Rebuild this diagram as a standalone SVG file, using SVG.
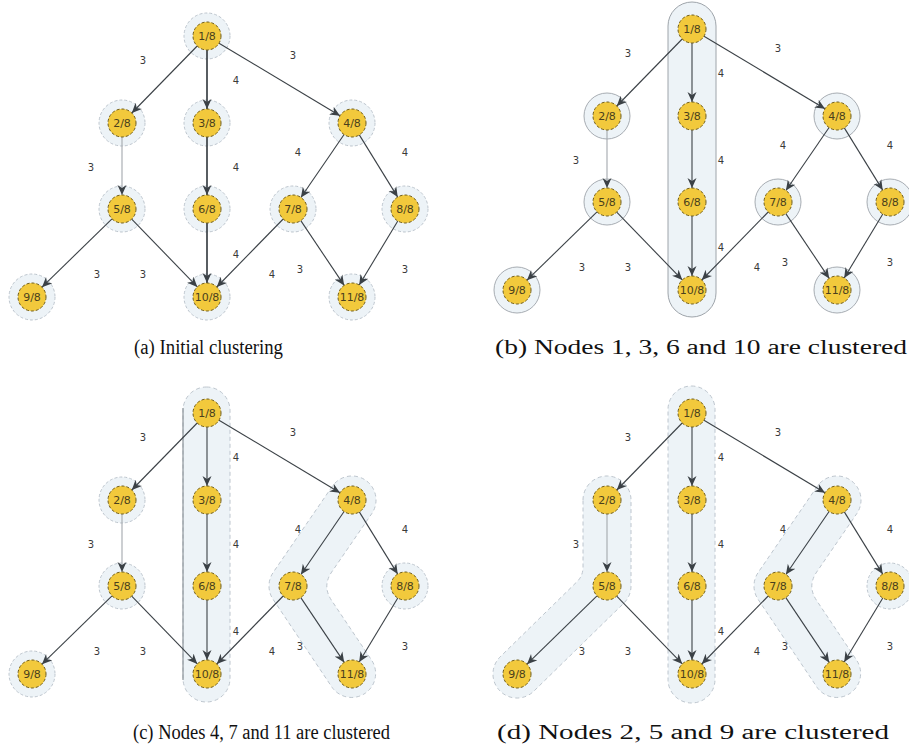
<svg xmlns="http://www.w3.org/2000/svg" width="909" height="744" viewBox="0 0 909 744">
<defs>
<marker id="ah" viewBox="0 0 10 10" refX="10" refY="5" markerWidth="10" markerHeight="10" markerUnits="userSpaceOnUse" orient="auto"><path d="M0,0.5 L10,5 L0,9.5 L3,5 z" fill="#3b4146"/></marker>
<style>
.halo{fill:#edf3f7;stroke:#b7c0c8;stroke-width:0.9;stroke-dasharray:3 2}
.halos{fill:#edf3f7;stroke:#9ea4aa;stroke-width:0.9}
.clu{fill:#edf3f7;stroke:#b7c0c8;stroke-width:0.9;stroke-dasharray:4 3}
.clus{fill:#edf3f7;stroke:#9ea4aa;stroke-width:1}
.nd{fill:#f2c93c;stroke:#6e5c1c;stroke-width:1;stroke-dasharray:3 2}
.nt{font-family:"DejaVu Sans",sans-serif;font-size:11px;fill:#4a3f1c;text-anchor:middle}
.e{stroke:#3b4146;stroke-width:1.1;fill:none;marker-end:url(#ah)}
.eb{stroke-width:1.7}
.el{stroke:#a3a8ad}
.lb{font-family:"DejaVu Sans",sans-serif;font-size:10px;fill:#3a3a3a;text-anchor:middle}
.cap{font-family:"Liberation Serif","DejaVu Serif",serif;fill:#111;font-size:20px}
</style>
</defs>
<rect width="909" height="744" fill="#fff"/>

<!-- Panel A -->
<g id="panel-a">
<g id="a-halos">
<circle class="halo" cx="207" cy="36" r="23"/><circle class="halo" cx="122" cy="123" r="23"/><circle class="halo" cx="207" cy="123" r="23"/><circle class="halo" cx="352" cy="123" r="23"/><circle class="halo" cx="122" cy="209" r="23"/><circle class="halo" cx="207" cy="209" r="23"/><circle class="halo" cx="293" cy="209" r="23"/><circle class="halo" cx="405" cy="209" r="23"/><circle class="halo" cx="32" cy="297" r="23"/><circle class="halo" cx="207" cy="297" r="23"/><circle class="halo" cx="352" cy="297" r="23"/>
</g>
<g id="a-connectors">
<line class="e" x1="197.2" y1="46" x2="131.8" y2="113"/>
<line class="e eb" x1="207" y1="50" x2="207" y2="109"/>
<line class="e" x1="219" y1="43.2" x2="340" y2="115.8"/>
<line class="e el" x1="122" y1="137" x2="122" y2="195"/>
<line class="e eb" x1="207" y1="137" x2="207" y2="195"/>
<line class="e" x1="344.1" y1="134.5" x2="300.9" y2="197.5"/>
<line class="e" x1="359.3" y1="134.9" x2="397.7" y2="197.1"/>
<line class="e" x1="112" y1="218.8" x2="42" y2="287.2"/>
<line class="e" x1="131.7" y1="219.1" x2="197.3" y2="286.9"/>
<line class="e eb" x1="207" y1="223" x2="207" y2="283"/>
<line class="e" x1="283.2" y1="219" x2="216.8" y2="287"/>
<line class="e" x1="300.8" y1="220.6" x2="344.2" y2="285.4"/>
<line class="e" x1="397.8" y1="221" x2="359.2" y2="285"/>
<text class="lb" x="143" y="64">3</text><text class="lb" x="293" y="59">3</text><text class="lb" x="236" y="84">4</text><text class="lb" x="91" y="171">3</text><text class="lb" x="236" y="171">4</text><text class="lb" x="298" y="156">4</text><text class="lb" x="405" y="156">4</text><text class="lb" x="97" y="278">3</text><text class="lb" x="143" y="278">3</text><text class="lb" x="236" y="258">4</text><text class="lb" x="272" y="278">4</text><text class="lb" x="300" y="273">3</text><text class="lb" x="405" y="273">3</text>
</g>
<g id="a-n1"><circle class="nd" cx="207" cy="36" r="14"/><text class="nt" x="207" y="40">1/8</text></g>
<g id="a-n2"><circle class="nd" cx="122" cy="123" r="14"/><text class="nt" x="122" y="127">2/8</text></g>
<g id="a-n3"><circle class="nd" cx="207" cy="123" r="14"/><text class="nt" x="207" y="127">3/8</text></g>
<g id="a-n4"><circle class="nd" cx="352" cy="123" r="14"/><text class="nt" x="352" y="127">4/8</text></g>
<g id="a-n5"><circle class="nd" cx="122" cy="209" r="14"/><text class="nt" x="122" y="213">5/8</text></g>
<g id="a-n6"><circle class="nd" cx="207" cy="209" r="14"/><text class="nt" x="207" y="213">6/8</text></g>
<g id="a-n7"><circle class="nd" cx="293" cy="209" r="14"/><text class="nt" x="293" y="213">7/8</text></g>
<g id="a-n8"><circle class="nd" cx="405" cy="209" r="14"/><text class="nt" x="405" y="213">8/8</text></g>
<g id="a-n9"><circle class="nd" cx="32" cy="297" r="14"/><text class="nt" x="32" y="301">9/8</text></g>
<g id="a-n10"><circle class="nd" cx="207" cy="297" r="14"/><text class="nt" x="207" y="301">10/8</text></g>
<g id="a-n11"><circle class="nd" cx="352" cy="297" r="14"/><text class="nt" x="352" y="301">11/8</text></g>
</g>

<!-- Panel B -->
<g id="panel-b" transform="translate(485,-7)">
<g id="b-clusters">
<rect class="clus" x="183" y="9" width="48" height="315" rx="24"/>
<circle class="halos" cx="122" cy="123" r="23"/><circle class="halos" cx="352" cy="123" r="23"/><circle class="halos" cx="122" cy="209" r="23"/><circle class="halos" cx="293" cy="209" r="23"/><circle class="halos" cx="405" cy="209" r="23"/><circle class="halos" cx="32" cy="297" r="23"/><circle class="halos" cx="352" cy="297" r="23"/>
</g>
<g id="b-connectors">
<line class="e" x1="197.2" y1="46" x2="131.8" y2="113"/>
<line class="e" x1="207" y1="50" x2="207" y2="109"/>
<line class="e" x1="219" y1="43.2" x2="340" y2="115.8"/>
<line class="e el" x1="122" y1="137" x2="122" y2="195"/>
<line class="e" x1="207" y1="137" x2="207" y2="195"/>
<line class="e" x1="344.1" y1="134.5" x2="300.9" y2="197.5"/>
<line class="e" x1="359.3" y1="134.9" x2="397.7" y2="197.1"/>
<line class="e" x1="112" y1="218.8" x2="42" y2="287.2"/>
<line class="e" x1="131.7" y1="219.1" x2="197.3" y2="286.9"/>
<line class="e" x1="207" y1="223" x2="207" y2="283"/>
<line class="e" x1="283.2" y1="219" x2="216.8" y2="287"/>
<line class="e" x1="300.8" y1="220.6" x2="344.2" y2="285.4"/>
<line class="e" x1="397.8" y1="221" x2="359.2" y2="285"/>
<text class="lb" x="143" y="64">3</text><text class="lb" x="293" y="59">3</text><text class="lb" x="236" y="84">4</text><text class="lb" x="91" y="171">3</text><text class="lb" x="236" y="171">4</text><text class="lb" x="298" y="156">4</text><text class="lb" x="405" y="156">4</text><text class="lb" x="97" y="278">3</text><text class="lb" x="143" y="278">3</text><text class="lb" x="236" y="258">4</text><text class="lb" x="272" y="278">4</text><text class="lb" x="300" y="273">3</text><text class="lb" x="405" y="273">3</text>
</g>
<g id="b-n1"><circle class="nd" cx="207" cy="36" r="14"/><text class="nt" x="207" y="40">1/8</text></g>
<g id="b-n2"><circle class="nd" cx="122" cy="123" r="14"/><text class="nt" x="122" y="127">2/8</text></g>
<g id="b-n3"><circle class="nd" cx="207" cy="123" r="14"/><text class="nt" x="207" y="127">3/8</text></g>
<g id="b-n4"><circle class="nd" cx="352" cy="123" r="14"/><text class="nt" x="352" y="127">4/8</text></g>
<g id="b-n5"><circle class="nd" cx="122" cy="209" r="14"/><text class="nt" x="122" y="213">5/8</text></g>
<g id="b-n6"><circle class="nd" cx="207" cy="209" r="14"/><text class="nt" x="207" y="213">6/8</text></g>
<g id="b-n7"><circle class="nd" cx="293" cy="209" r="14"/><text class="nt" x="293" y="213">7/8</text></g>
<g id="b-n8"><circle class="nd" cx="405" cy="209" r="14"/><text class="nt" x="405" y="213">8/8</text></g>
<g id="b-n9"><circle class="nd" cx="32" cy="297" r="14"/><text class="nt" x="32" y="301">9/8</text></g>
<g id="b-n10"><circle class="nd" cx="207" cy="297" r="14"/><text class="nt" x="207" y="301">10/8</text></g>
<g id="b-n11"><circle class="nd" cx="352" cy="297" r="14"/><text class="nt" x="352" y="301">11/8</text></g>
</g>

<!-- Panel C -->
<g id="panel-c" transform="translate(0,377)">
<g id="c-clusters">
<rect class="clu" x="183" y="10" width="47" height="315" rx="23.5"/>
<line x1="183" y1="31" x2="183" y2="303" stroke="#8e959b" stroke-width="1.2"/>
<path class="clu" d="M332.2,109.4 L273.2,195.4 A24,24 0 0 0 273.1,222.4 L332.1,310.4 A24,24 0 0 0 371.9,283.6 L331.3,223 Q322.1,209 331.7,195 L371.8,136.6 A24,24 0 0 0 332.2,109.4 Z"/>
<circle class="halo" cx="122" cy="123" r="23"/><circle class="halo" cx="122" cy="209" r="23"/><circle class="halo" cx="405" cy="209" r="23"/><circle class="halo" cx="32" cy="297" r="23"/>
</g>
<g id="c-connectors">
<line class="e" x1="197.2" y1="46" x2="131.8" y2="113"/>
<line class="e" x1="207" y1="50" x2="207" y2="109"/>
<line class="e" x1="219" y1="43.2" x2="340" y2="115.8"/>
<line class="e el" x1="122" y1="137" x2="122" y2="195"/>
<line class="e" x1="207" y1="137" x2="207" y2="195"/>
<line class="e" x1="344.1" y1="134.5" x2="300.9" y2="197.5"/>
<line class="e" x1="359.3" y1="134.9" x2="397.7" y2="197.1"/>
<line class="e" x1="112" y1="218.8" x2="42" y2="287.2"/>
<line class="e" x1="131.7" y1="219.1" x2="197.3" y2="286.9"/>
<line class="e" x1="207" y1="223" x2="207" y2="283"/>
<line class="e" x1="283.2" y1="219" x2="216.8" y2="287"/>
<line class="e" x1="300.8" y1="220.6" x2="344.2" y2="285.4"/>
<line class="e" x1="397.8" y1="221" x2="359.2" y2="285"/>
<text class="lb" x="143" y="64">3</text><text class="lb" x="293" y="59">3</text><text class="lb" x="236" y="84">4</text><text class="lb" x="91" y="171">3</text><text class="lb" x="236" y="171">4</text><text class="lb" x="298" y="156">4</text><text class="lb" x="405" y="156">4</text><text class="lb" x="97" y="278">3</text><text class="lb" x="143" y="278">3</text><text class="lb" x="236" y="258">4</text><text class="lb" x="272" y="278">4</text><text class="lb" x="300" y="273">3</text><text class="lb" x="405" y="273">3</text>
</g>
<g id="c-n1"><circle class="nd" cx="207" cy="36" r="14"/><text class="nt" x="207" y="40">1/8</text></g>
<g id="c-n2"><circle class="nd" cx="122" cy="123" r="14"/><text class="nt" x="122" y="127">2/8</text></g>
<g id="c-n3"><circle class="nd" cx="207" cy="123" r="14"/><text class="nt" x="207" y="127">3/8</text></g>
<g id="c-n4"><circle class="nd" cx="352" cy="123" r="14"/><text class="nt" x="352" y="127">4/8</text></g>
<g id="c-n5"><circle class="nd" cx="122" cy="209" r="14"/><text class="nt" x="122" y="213">5/8</text></g>
<g id="c-n6"><circle class="nd" cx="207" cy="209" r="14"/><text class="nt" x="207" y="213">6/8</text></g>
<g id="c-n7"><circle class="nd" cx="293" cy="209" r="14"/><text class="nt" x="293" y="213">7/8</text></g>
<g id="c-n8"><circle class="nd" cx="405" cy="209" r="14"/><text class="nt" x="405" y="213">8/8</text></g>
<g id="c-n9"><circle class="nd" cx="32" cy="297" r="14"/><text class="nt" x="32" y="301">9/8</text></g>
<g id="c-n10"><circle class="nd" cx="207" cy="297" r="14"/><text class="nt" x="207" y="301">10/8</text></g>
<g id="c-n11"><circle class="nd" cx="352" cy="297" r="14"/><text class="nt" x="352" y="301">11/8</text></g>
</g>

<!-- Panel D -->
<g id="panel-d" transform="translate(485,377)">
<g id="d-clusters">
<rect class="clu" x="183" y="9" width="47" height="317" rx="23.5"/>
<path class="clu" d="M332.2,109.4 L273.2,195.4 A24,24 0 0 0 273.1,222.4 L332.1,310.4 A24,24 0 0 0 371.9,283.6 L331.3,223 Q322.1,209 331.7,195 L371.8,136.6 A24,24 0 0 0 332.2,109.4 Z"/>
<path class="clu" d="M98,123 A24,24 0 0 1 146,123 L146,209 A24,24 0 0 1 138.8,226.2 L48.8,314.2 A24,24 0 0 1 15.2,279.8 L92,204.7 Q98,199 98,190 Z"/>
<circle class="halo" cx="405" cy="209" r="23"/>
</g>
<g id="d-connectors">
<line class="e" x1="197.2" y1="46" x2="131.8" y2="113"/>
<line class="e" x1="207" y1="50" x2="207" y2="109"/>
<line class="e" x1="219" y1="43.2" x2="340" y2="115.8"/>
<line class="e el" x1="122" y1="137" x2="122" y2="195"/>
<line class="e" x1="207" y1="137" x2="207" y2="195"/>
<line class="e" x1="344.1" y1="134.5" x2="300.9" y2="197.5"/>
<line class="e" x1="359.3" y1="134.9" x2="397.7" y2="197.1"/>
<line class="e" x1="112" y1="218.8" x2="42" y2="287.2"/>
<line class="e" x1="131.7" y1="219.1" x2="197.3" y2="286.9"/>
<line class="e" x1="207" y1="223" x2="207" y2="283"/>
<line class="e" x1="283.2" y1="219" x2="216.8" y2="287"/>
<line class="e" x1="300.8" y1="220.6" x2="344.2" y2="285.4"/>
<line class="e" x1="397.8" y1="221" x2="359.2" y2="285"/>
<text class="lb" x="143" y="64">3</text><text class="lb" x="293" y="59">3</text><text class="lb" x="236" y="84">4</text><text class="lb" x="91" y="171">3</text><text class="lb" x="236" y="171">4</text><text class="lb" x="298" y="156">4</text><text class="lb" x="405" y="156">4</text><text class="lb" x="97" y="278">3</text><text class="lb" x="143" y="278">3</text><text class="lb" x="236" y="258">4</text><text class="lb" x="272" y="278">4</text><text class="lb" x="300" y="273">3</text><text class="lb" x="405" y="273">3</text>
</g>
<g id="d-n1"><circle class="nd" cx="207" cy="36" r="14"/><text class="nt" x="207" y="40">1/8</text></g>
<g id="d-n2"><circle class="nd" cx="122" cy="123" r="14"/><text class="nt" x="122" y="127">2/8</text></g>
<g id="d-n3"><circle class="nd" cx="207" cy="123" r="14"/><text class="nt" x="207" y="127">3/8</text></g>
<g id="d-n4"><circle class="nd" cx="352" cy="123" r="14"/><text class="nt" x="352" y="127">4/8</text></g>
<g id="d-n5"><circle class="nd" cx="122" cy="209" r="14"/><text class="nt" x="122" y="213">5/8</text></g>
<g id="d-n6"><circle class="nd" cx="207" cy="209" r="14"/><text class="nt" x="207" y="213">6/8</text></g>
<g id="d-n7"><circle class="nd" cx="293" cy="209" r="14"/><text class="nt" x="293" y="213">7/8</text></g>
<g id="d-n8"><circle class="nd" cx="405" cy="209" r="14"/><text class="nt" x="405" y="213">8/8</text></g>
<g id="d-n9"><circle class="nd" cx="32" cy="297" r="14"/><text class="nt" x="32" y="301">9/8</text></g>
<g id="d-n10"><circle class="nd" cx="207" cy="297" r="14"/><text class="nt" x="207" y="301">10/8</text></g>
<g id="d-n11"><circle class="nd" cx="352" cy="297" r="14"/><text class="nt" x="352" y="301">11/8</text></g>
</g>

<g id="captions">
<text class="cap" x="134" y="354" textLength="149" lengthAdjust="spacingAndGlyphs">(a) Initial clustering</text>
<text class="cap" x="495" y="354" textLength="412" lengthAdjust="spacingAndGlyphs">(b) Nodes 1, 3, 6 and 10 are clustered</text>
<text class="cap" x="133" y="739" textLength="257" lengthAdjust="spacingAndGlyphs">(c) Nodes 4, 7 and 11 are clustered</text>
<text class="cap" x="497" y="739" textLength="392" lengthAdjust="spacingAndGlyphs">(d) Nodes 2, 5 and 9 are clustered</text>
</g>
</svg>
